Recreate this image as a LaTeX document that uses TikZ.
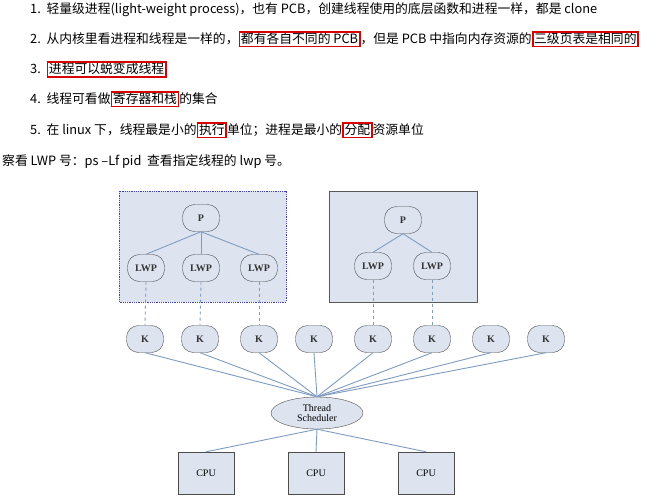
\documentclass[tikz,border=0pt]{standalone}
\usepackage{fontspec}
\setmainfont{Noto Sans CJK SC}
\newfontfamily\dfont{Liberation Serif}
\usetikzlibrary{shapes, positioning}
\definecolor{boxfill}{HTML}{DDE4F0}
\definecolor{linkblue}{HTML}{7F9CC0}
\newcommand\redbox[1]{{\setlength\fboxrule{1.8pt}\setlength\fboxsep{0.6pt}\fcolorbox{red!85!black}{white}{#1}}}
\tikzset{
  line/.style={anchor=base west, inner sep=0pt, font=\fontsize{12.8}{14}\selectfont},
  ovalnode/.style={draw=black!70, fill=boxfill, rounded corners=12pt, minimum width=37pt, minimum height=27pt, font=\dfont\bfseries\fontsize{10}{11}\selectfont, text=black!80},
  cpubox/.style={draw=black!70, fill=boxfill, minimum width=56pt, minimum height=42pt, font=\dfont\fontsize{10}{11}\selectfont},
  link/.style={linkblue, line width=0.9pt},
  dlink/.style={linkblue, line width=0.9pt, dashed}
}
\begin{document}
\begin{tikzpicture}[x=1pt, y=-1pt]
		\useasboundingbox (0,0) rectangle (666,500);
		\fill[white] (0,0) rectangle (666,500);

		% text lines
		\node[line] (t1) at (30,14) {1.\ \ 轻量级进程(light-weight process)，也有 PCB，创建线程使用的底层函数和进程一样，都是 clone};
		\node[line] (t2) at (30,44) {2.\ \ 从内核里看进程和线程是一样的，\redbox{都有各自不同的 PCB}，但是 PCB 中指向内存资源的\redbox{三级页表是相同的}};
		\node[line] (t3) at (30,74) {3.\ \ \redbox{进程可以蜕变成线程}};
		\node[line] (t4) at (30,104) {4.\ \ 线程可看做\redbox{寄存器和栈}的集合};
		\node[line] (t5) at (30,135) {5.\ \ 在 linux 下，线程最是小的\redbox{执行}单位；进程是最小的\redbox{分配}资源单位};
		\node[line] (t6) at (2,165) {察看 LWP 号：ps –Lf pid\ \ 查看指定线程的 lwp 号。};

		% process boxes
		\draw[blue!50!gray, densely dotted, line width=0.8pt, fill=boxfill] (119,191) rectangle (286,302);
		\draw[black!65, fill=boxfill] (329,191) rectangle (477,302);

		\node[ovalnode] (p1) at (201,218) {P};
		\node[ovalnode] (l1) at (146,268) {LWP};
		\node[ovalnode] (l2) at (201,268) {LWP};
		\node[ovalnode] (l3) at (259,268) {LWP};
		\node[ovalnode] (p2) at (403,220) {P};
		\node[ovalnode] (l4) at (373,266) {LWP};
		\node[ovalnode] (l5) at (432,266) {LWP};

		% kernel threads
		\foreach \i/\x in {1/145,2/200,3/259,4/314,5/373,6/432,7/491,8/546}
			\node[ovalnode] (k\i) at (\x,339) {K};

		\node[ellipse, draw=black!70, fill=boxfill, minimum width=92pt, minimum height=32pt, inner sep=0pt, align=center, font=\dfont\fontsize{10}{10.5}\selectfont] (ts) at (317,413) {Thread\\Scheduler};

		\node[cpubox] (c1) at (206,473) {CPU};
		\node[cpubox] (c2) at (316,473) {CPU};
		\node[cpubox] (c3) at (426,473) {CPU};

		\foreach \l in {l1,l2,l3}
			\draw[link] (p1.south) -- (\l.north);
		\foreach \l in {l4,l5}
			\draw[link] (p2.south) -- (\l.north);
		\foreach \l/\k in {l1/k1,l2/k2,l3/k3,l4/k5,l5/k6}
			\draw[dlink] (\l.south) -- (\k.north);
		\foreach \i in {1,...,8}
			\draw[link] (k\i.south) -- (ts.north);
		\foreach \c in {c1,c2,c3}
			\draw[link] (ts.south) -- (\c.north);
	\end{tikzpicture}
\end{document}
